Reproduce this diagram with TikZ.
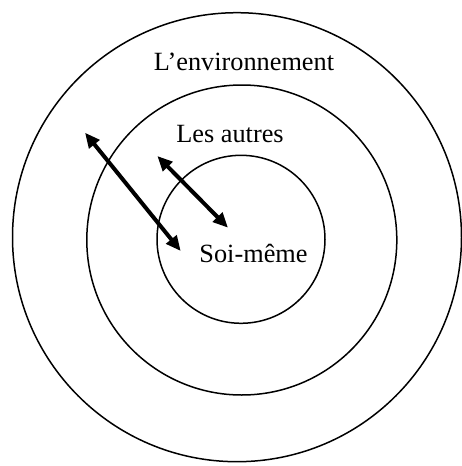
\documentclass[tikz,border=0pt]{standalone}
\usepackage{fontspec}
\setmainfont{Liberation Serif}
\usetikzlibrary{arrows.meta}

\begin{document}
\begin{tikzpicture}[x=1pt,y=-1pt,
		ring/.style={line width=1.5pt},
		lien/.style={line width=4pt,{Triangle[length=15pt,width=13pt]}-{Triangle[length=15pt,width=13pt]}},
		lbl/.style={anchor=base,inner sep=0pt,font=\fontsize{26.3}{30}\selectfont}]
	\useasboundingbox (0,0) rectangle (461,466);
	\draw[ring] (237,237.2) circle (224.5);
	\draw[ring] (241.8,240) circle (155);
	\draw[ring] (241,239.3) circle (84);
	\node[lbl] (env) at (244,70) {L’environnement};
	\node[lbl] (autres) at (230,142.5) {Les autres};
	\node[lbl] (soi) at (253.5,262.5) {Soi-même};
	\coordinate (a1) at (85,132.7);
	\coordinate (a2) at (180.7,251);
	\coordinate (b1) at (157.3,156);
	\coordinate (b2) at (228,227.7);
	\draw[lien] (a1) -- (a2);
	\draw[lien] (b1) -- (b2);
\end{tikzpicture}
\end{document}
